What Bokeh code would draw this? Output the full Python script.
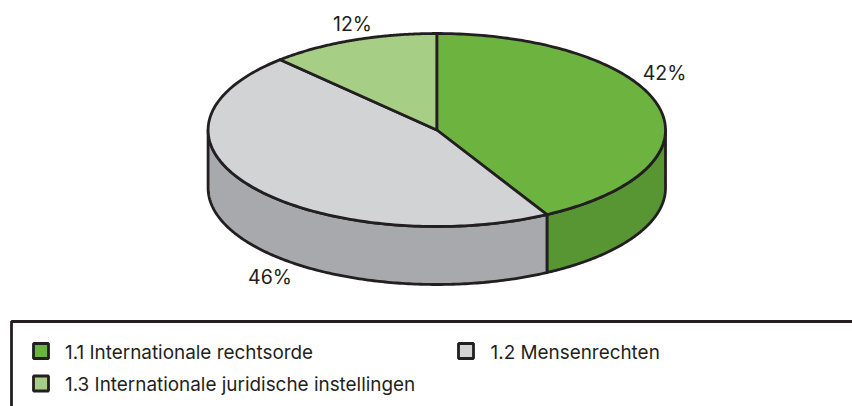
import numpy as np
from bokeh.plotting import figure
from bokeh.models import Range1d
from bokeh.core.properties import value
from bokeh.embed import file_html
from bokeh.resources import INLINE

# data
labels = ["1.1 Internationale rechtsorde", "1.2 Mensenrechten", "1.3 Internationale juridische instellingen"]
shares = [42, 46, 12]
top_colors = ["#6cb33f", "#d1d3d4", "#a6ce85"]
side_colors = ["#589633", "#a7a9ac", "#7fa860"]

# layout (page pixels)
CX, CY, RX, RY, DEPTH = 436.3, 129.5, 228.7, 96.5, 58
INK = "#231f20"
FONT = value("Inter")
LW = 2.8

p = figure(width=852, height=406, output_backend="svg", toolbar_location=None,
           x_range=Range1d(0, 852), y_range=Range1d(406, 0), min_border=0)
p.axis.visible = False
p.grid.visible = False
p.outline_line_color = None
p.background_fill_color = "white"


def arc(a0, a1, dy=0.0, n=160):
    t = np.radians(np.linspace(a0, a1, n))
    return CX + RX * np.cos(t), CY + dy - RY * np.sin(t)


# clockwise wedge boundaries from 12 o'clock
edges = 90 - np.cumsum([0] + shares) * 3.6

# side wall: only the part of each wedge on the front half (angles -180..0)
for a0, a1, col in zip(edges[:-1], edges[1:], side_colors):
    s0, s1 = max(a1, -180.0), min(a0, 0.0)
    if s1 <= s0:
        continue
    xa, ya = arc(s0, s1, 0)
    xb, yb = arc(s1, s0, DEPTH)
    p.patch(np.r_[xa, xb], np.r_[ya, yb], fill_color=col, line_color=INK, line_width=LW, line_join="round")

# top faces
for a0, a1, col in zip(edges[:-1], edges[1:], top_colors):
    xa, ya = arc(a0, a1)
    p.patch(np.r_[CX, xa], np.r_[CY, ya], fill_color=col, line_color=INK, line_width=LW, line_join="round")

# percentage labels
p.text([664, 269.5, 352], [72, 276, 23], text=[f"{v}%" for v in shares], text_font=FONT, text_font_size="19.5px",
       text_color=INK, text_align="center", text_baseline="middle")

# legend frame
p.line([11, 11, 852], [406, 321, 321], line_color=INK, line_width=LW)
sw_x = [40.5, 465.5, 40.5]
sw_y = [350.5, 350.5, 383]
tx_x = [64.5, 490, 64.5]
tx_y = [352, 352, 384]
p.rect(sw_x, sw_y, width=15, height=15, fill_color=top_colors, line_color=INK, line_width=LW)
p.text(tx_x, tx_y, text=labels, text_font=FONT, text_font_size="18.9px", text_color=INK,
       text_align="left", text_baseline="middle")

open("out.html", "w").write(file_html(p, INLINE))
